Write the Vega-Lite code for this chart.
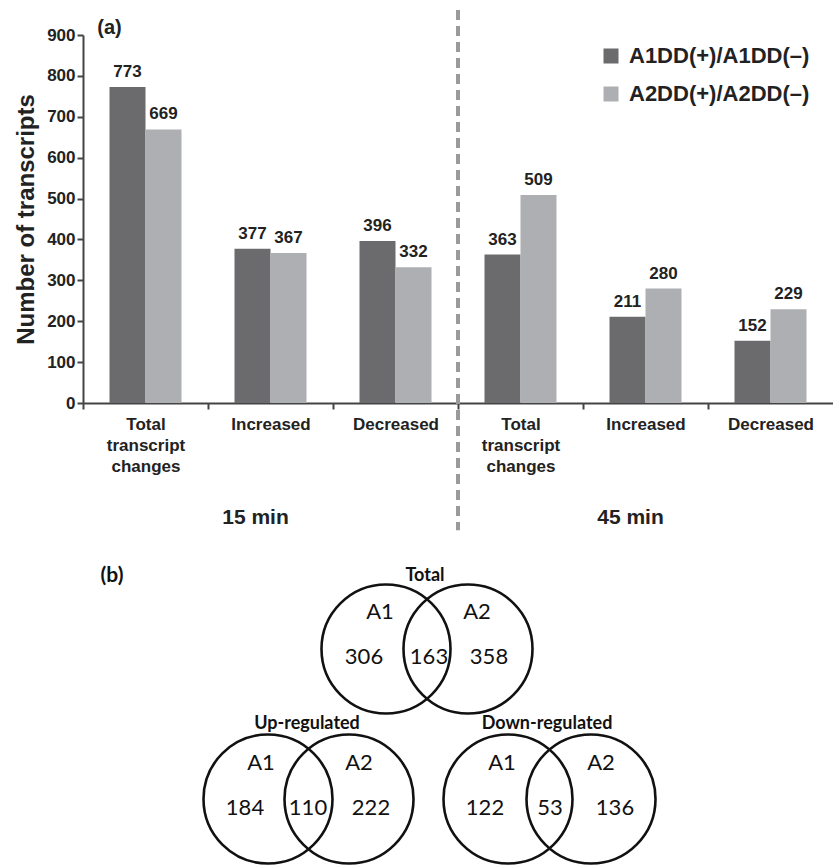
{
  "$schema": "https://vega.github.io/schema/vega-lite/v6.json",
  "padding": {"left": 14, "top": 8, "right": 0, "bottom": 0},
  "spacing": 26,
  "background": "white",
  "config": {
    "view": {"stroke": null},
    "font": "Liberation Sans",
    "axis": {"labelFont": "Liberation Sans", "titleFont": "Liberation Sans"},
    "legend": {"labelFont": "Liberation Sans"},
    "text": {"font": "Liberation Sans"}
  },
  "datasets": {
    "bars": [
      {"cat": "T15", "series": "A1DD(+)/A1DD(–)", "value": 773},
      {"cat": "T15", "series": "A2DD(+)/A2DD(–)", "value": 669},
      {"cat": "I15", "series": "A1DD(+)/A1DD(–)", "value": 377},
      {"cat": "I15", "series": "A2DD(+)/A2DD(–)", "value": 367},
      {"cat": "D15", "series": "A1DD(+)/A1DD(–)", "value": 396},
      {"cat": "D15", "series": "A2DD(+)/A2DD(–)", "value": 332},
      {"cat": "T45", "series": "A1DD(+)/A1DD(–)", "value": 363},
      {"cat": "T45", "series": "A2DD(+)/A2DD(–)", "value": 509},
      {"cat": "I45", "series": "A1DD(+)/A1DD(–)", "value": 211},
      {"cat": "I45", "series": "A2DD(+)/A2DD(–)", "value": 280},
      {"cat": "D45", "series": "A1DD(+)/A1DD(–)", "value": 152},
      {"cat": "D45", "series": "A2DD(+)/A2DD(–)", "value": 229}
    ],
    "periods": [
      {"cat": "I15", "label": "15 min"},
      {"cat": "I45", "label": "45 min"}
    ],
    "circles": [
      {"diagram": "Total", "set": "A1", "x": 30.0, "y": 21.6},
      {"diagram": "Total", "set": "A2", "x": 38.2, "y": 21.6},
      {"diagram": "Up-regulated", "set": "A1", "x": 18.2, "y": 6.6},
      {"diagram": "Up-regulated", "set": "A2", "x": 26.3, "y": 6.6},
      {"diagram": "Down-regulated", "set": "A1", "x": 42.2, "y": 6.6},
      {"diagram": "Down-regulated", "set": "A2", "x": 50.5, "y": 6.6}
    ],
    "venntext": [
      {"role": "panel", "text": "(b)", "x": 2.6, "y": 28.9},
      {"role": "title", "text": "Total", "x": 33.9, "y": 28.9},
      {"role": "title", "text": "Up-regulated", "x": 22.1, "y": 14.1},
      {"role": "title", "text": "Down-regulated", "x": 46.1, "y": 14.1},
      {"role": "set", "text": "A1", "x": 29.4, "y": 25.3},
      {"role": "set", "text": "A2", "x": 39.1, "y": 25.3},
      {"role": "count", "text": "306", "x": 27.8, "y": 20.8},
      {"role": "count", "text": "163", "x": 34.3, "y": 20.8},
      {"role": "count", "text": "358", "x": 40.3, "y": 20.8},
      {"role": "set", "text": "A1", "x": 17.5, "y": 10.2},
      {"role": "set", "text": "A2", "x": 27.3, "y": 10.2},
      {"role": "count", "text": "184", "x": 15.9, "y": 5.7},
      {"role": "count", "text": "110", "x": 22.2, "y": 5.7},
      {"role": "count", "text": "222", "x": 28.5, "y": 5.7},
      {"role": "set", "text": "A1", "x": 41.6, "y": 10.2},
      {"role": "set", "text": "A2", "x": 51.5, "y": 10.2},
      {"role": "count", "text": "122", "x": 39.9, "y": 5.7},
      {"role": "count", "text": "53", "x": 46.4, "y": 5.7},
      {"role": "count", "text": "136", "x": 52.9, "y": 5.7}
    ]
  },
  "vconcat": [
    {
      "width": 750,
      "height": 368,
      "layer": [
        {
          "data": {"name": "bars"},
          "mark": {"type": "bar"},
          "encoding": {
            "x": {
              "field": "cat", "type": "nominal",
              "scale": {"domain": ["T15", "I15", "D15", "T45", "I45", "D45"], "paddingInner": 0.424, "paddingOuter": 0.212},
              "axis": {
                "title": null,
                "labelExpr": "slice(datum.value,0,1)=='T' ? ['Total','transcript','changes'] : slice(datum.value,0,1)=='I' ? 'Increased' : 'Decreased'",
                "labelAngle": 0,
                "labelFont": "Liberation Sans",
                "labelFontSize": 17, "labelFontWeight": "bold", "labelColor": "#222",
                "labelLineHeight": 21, "labelPadding": 7, "labelOverlap": false,
                "labelBaseline": "top",
                "tickOffset": -62.5, "labelOffset": 62.5,
                "tickSize": 6, "tickWidth": 2, "tickColor": "#444",
                "domainWidth": 2, "domainColor": "#444"
              }
            },
            "xOffset": {"field": "series", "type": "nominal", "scale": {"paddingInner": 0, "paddingOuter": 0}},
            "y": {
              "field": "value", "type": "quantitative",
              "scale": {"domain": [0, 900]},
              "axis": {
                "values": [0, 100, 200, 300, 400, 500, 600, 700, 800, 900],
                "grid": false,
                "title": "Number of transcripts",
                "titleFont": "Liberation Sans",
                "titleFontSize": 24, "titleFontWeight": "bold", "titleColor": "#222", "titlePadding": 8,
                "labelFont": "Liberation Sans",
                "labelFontSize": 17, "labelFontWeight": "bold", "labelColor": "#222", "labelPadding": 2,
                "tickSize": 6, "tickWidth": 2, "tickColor": "#444",
                "domainWidth": 2, "domainColor": "#444"
              }
            },
            "color": {
              "field": "series", "type": "nominal",
              "scale": {"domain": ["A1DD(+)/A1DD(–)", "A2DD(+)/A2DD(–)"], "range": ["#6b6b6e", "#aeafb3"]},
              "legend": {
                "title": null, "orient": "none", "legendX": 517, "legendY": 10,
                "symbolType": "square", "symbolSize": 225, "symbolStrokeWidth": 0,
                "labelFont": "Liberation Sans",
                "labelFontSize": 22, "labelFontWeight": "bold", "labelColor": "#222", "labelLimit": 0,
                "rowPadding": 16, "labelOffset": 7
              }
            }
          }
        },
        {
          "data": {"name": "bars"},
          "mark": {"type": "text", "dy": -15, "font": "Liberation Sans", "fontSize": 17, "fontWeight": "bold", "color": "#222"},
          "encoding": {
            "x": {"field": "cat", "type": "nominal"},
            "xOffset": {"field": "series", "type": "nominal"},
            "y": {"field": "value", "type": "quantitative"},
            "text": {"field": "value", "type": "quantitative"}
          }
        },
        {
          "data": {"values": [{}]},
          "mark": {"type": "rule", "strokeDash": [10, 6], "strokeWidth": 4, "color": "#9a9a9a", "xOffset": -62.5},
          "encoding": {
            "x": {"datum": "T45", "type": "nominal"},
            "y": {"datum": 961, "type": "quantitative"},
            "y2": {"datum": -311}
          }
        },
        {
          "data": {"values": [{}]},
          "mark": {"type": "text", "text": "(a)", "font": "Liberation Sans", "fontSize": 20, "fontWeight": "bold", "color": "#222", "xOffset": -36},
          "encoding": {
            "x": {"datum": "T15", "type": "nominal"},
            "y": {"datum": 917, "type": "quantitative"}
          }
        },
        {
          "data": {"name": "periods"},
          "mark": {"type": "text", "font": "Liberation Sans", "fontSize": 21, "fontWeight": "bold", "color": "#222", "xOffset": -15},
          "encoding": {
            "x": {"field": "cat", "type": "nominal"},
            "y": {"datum": -281, "type": "quantitative"},
            "text": {"field": "label"}
          }
        }
      ]
    },
    {
      "width": 750,
      "height": 306,
      "encoding": {
        "x": {"field": "x", "type": "quantitative", "scale": {"domain": [-0.3, 74.7]}, "axis": null},
        "y": {"field": "y", "type": "quantitative", "scale": {"domain": [0, 30.6]}, "axis": null}
      },
      "layer": [
        {
          "data": {"name": "circles"},
          "mark": {"type": "point", "shape": "circle", "filled": false, "size": 16641, "stroke": "#111", "strokeWidth": 2.6, "opacity": 1}
        },
        {
          "data": {"name": "venntext"},
          "transform": [{"filter": "datum.role == 'set' || datum.role == 'count'"}],
          "mark": {"type": "text", "font": "Lato", "fontSize": 22, "color": "#111"},
          "encoding": {"text": {"field": "text"}}
        },
        {
          "data": {"name": "venntext"},
          "transform": [{"filter": "datum.role == 'title'"}],
          "mark": {"type": "text", "font": "Lato", "fontSize": 18, "fontWeight": "bold", "color": "#111"},
          "encoding": {"text": {"field": "text"}}
        },
        {
          "data": {"name": "venntext"},
          "transform": [{"filter": "datum.role == 'panel'"}],
          "mark": {"type": "text", "font": "Lato", "fontSize": 21, "fontWeight": "bold", "color": "#111"},
          "encoding": {"text": {"field": "text"}}
        }
      ]
    }
  ]
}
